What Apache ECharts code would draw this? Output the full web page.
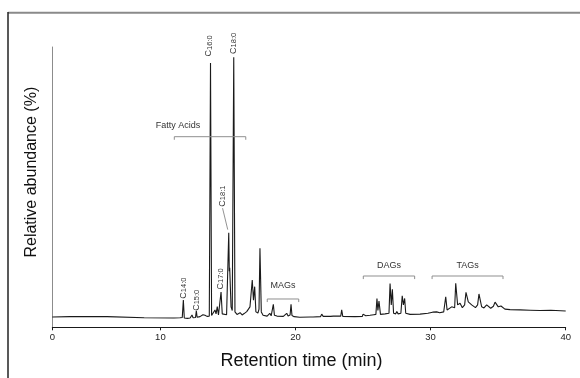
<!DOCTYPE html>
<html><head><meta charset="utf-8">
<script src="https://cdn.jsdelivr.net/npm/echarts@6/dist/echarts.min.js"></script>
<style>html,body{margin:0;padding:0;background:#fff}#c{width:580px;height:378px}</style>
</head><body><div id="c"></div>
<script>
// ---- data ----
const retentionTime = [2.00,3.30,3.35,6.05,6.10,8.80,11.00,11.45,11.62,11.70,11.77,12.00,12.20,12.34,12.42,12.60,12.66,12.72,12.93,13.15,
13.30,13.45,13.62,13.71,13.79,13.90,14.04,14.12,14.21,14.30,14.42,14.49,14.58,14.71,14.90,14.97,15.06,15.10,15.13,15.23,
15.32,15.43,15.52,15.67,15.90,16.05,16.20,16.39,16.50,16.63,16.73,16.80,16.89,16.98,17.07,17.22,17.30,17.37,17.47,17.60,
17.90,18.10,18.20,18.28,18.36,18.44,18.51,18.63,19.10,19.35,19.45,19.60,19.67,19.74,19.90,20.31,21.10,21.20,21.30,21.85,
21.94,22.05,22.60,22.68,22.80,23.35,23.42,23.50,24.40,24.95,25.00,25.06,25.12,25.20,25.52,25.80,25.95,26.03,26.10,26.18,
26.29,26.63,26.92,27.00,27.09,27.17,27.26,27.42,27.50,27.60,27.80,27.90,27.99,28.08,28.16,28.48,29.22,29.80,30.15,30.45,
30.52,30.67,30.97,31.05,31.12,31.22,31.36,31.56,31.69,31.78,31.86,32.00,32.18,32.35,32.52,32.62,32.79,33.04,33.16,33.32,
33.48,33.58,33.78,33.95,34.15,34.45,34.65,34.77,35.01,35.21,35.50,35.88,36.62,37.36,38.10,38.90,38.97,40.00];
const abundance = [3.7,3.8,3.9,3.8,3.6,3.4,3.3,3.4,3.5,9.7,3.3,3.2,3.3,4.4,3.4,3.5,5.9,3.6,3.8,4.5,
4.3,3.9,4.0,94.3,4.2,3.9,6.2,4.8,7.4,4.4,4.6,12.6,4.8,4.3,4.5,4.6,33.7,20.0,21.2,7.3,
6.0,96.3,5.5,4.6,5.2,4.4,4.9,5.6,5.0,7.3,8.0,16.9,9.7,14.5,5.5,5.1,6.5,28.2,5.5,4.3,
4.0,5.0,4.1,4.3,8.2,4.3,5.0,4.0,3.9,5.0,4.0,4.4,8.2,4.2,3.8,3.6,3.7,4.4,3.7,3.8,
4.7,3.9,3.9,4.4,4.0,4.0,6.2,3.9,3.8,3.9,4.7,4.0,4.6,4.1,4.3,4.5,4.6,10.3,6.0,9.4,
4.6,4.8,5.0,15.6,8.0,13.6,5.0,4.8,5.6,4.8,5.0,11.2,8.0,10.3,5.0,4.6,4.7,5.0,5.4,5.5,
6.2,5.2,5.5,6.0,10.9,6.2,6.5,7.3,6.6,7.0,15.7,8.0,8.6,7.0,8.0,12.5,9.1,8.0,8.6,7.0,
8.0,11.9,7.3,6.9,8.0,6.8,7.5,9.0,7.3,7.6,6.5,6.3,6.2,6.1,6.0,6.1,5.8,5.8];
const tickValues = [2, 10, 20, 30, 40];
const tickLabels = ["0", "10", "20", "30", "40"];
const peakNames = ["14:0", "15:0", "16:0", "17:0", "18:1", "18:0"];
const peakTimes = [11.70, 12.66, 13.71, 14.49, 15.06, 15.43];
const peakHeights = [9.7, 5.9, 94.3, 12.6, 33.7, 96.3];
const groupNames = ["Fatty Acids", "MAGs", "DAGs", "TAGs"];
const groupStart = [11.03, 17.91, 25.02, 30.11];
const groupEnd = [16.32, 20.24, 28.82, 35.36];

// ---- annotation layout (not data) ----
const FONT = "'Liberation Sans', Arial, Helvetica, sans-serif";
const bracketLevel = [68.0, 10.1, 18.3, 18.3];
const bracketTick = 1.1;
const peakLabelOffset = [[0, -12], [0.4, -10.5], [-1.5, -17], [-0.4, -13], [-6.4, -36.7], [0, -14]];
const groupLabelOffset = [[-32, -11.5], [0, -13], [0, -10], [0, -10]];

const chart = echarts.init(document.getElementById('c'), null, {renderer: 'canvas'});

const bracketSeries = groupNames.map((g, i) => ({
  type: 'line', name: g, silent: true, symbol: 'none', clip: false,
  data: [[groupStart[i], bracketLevel[i] - bracketTick], [groupStart[i], bracketLevel[i]],
         [groupEnd[i], bracketLevel[i]], [groupEnd[i], bracketLevel[i] - bracketTick]],
  lineStyle: {color: '#8f8f8f', width: 1}
}));

chart.setOption({
  animation: false,
  backgroundColor: '#fff',
  grid: {left: 52.3, right: 14.3, top: 47, bottom: 50.7, containLabel: false},
  xAxis: {
    type: 'value', min: 2, max: 40,
    axisLine: {onZero: false, lineStyle: {color: '#1a1a1a', width: 1}},
    axisTick: {show: true, length: 3, customValues: tickValues, lineStyle: {color: '#1a1a1a'}},
    axisLabel: {customValues: tickValues, formatter: v => tickLabels[tickValues.indexOf(v)],
      fontSize: 9.5, color: '#222', margin: 5, fontFamily: FONT},
    splitLine: {show: false},
    name: 'Retention time (min)', nameLocation: 'middle', nameGap: 25,
    nameTextStyle: {fontSize: 18, color: '#111', fontFamily: FONT, padding: [0, 15, 0, 0]}
  },
  yAxis: {
    type: 'value', min: 0, max: 100,
    axisLine: {show: true, onZero: false, lineStyle: {color: '#8c8c8c', width: 1}},
    axisTick: {show: false}, axisLabel: {show: false}, splitLine: {show: false},
    name: 'Relative abundance (%)', nameLocation: 'middle', nameGap: 13, nameRotate: 90,
    nameTextStyle: {fontSize: 16, color: '#111', fontFamily: FONT, padding: [0, 0, 0, 30]}
  },
  series: [{
    type: 'line', name: 'chromatogram', symbol: 'none', clip: false,
    data: retentionTime.map((t, i) => [t, abundance[i]]),
    lineStyle: {color: '#1a1a1a', width: 1.1}
  }].concat(bracketSeries)
});

const graphics = [
  {type: 'line', shape: {x1: 8, y1: 12.7, x2: 580, y2: 12.7}, style: {stroke: '#8a8a8a', lineWidth: 2}},
  {type: 'line', shape: {x1: 8, y1: 12, x2: 8, y2: 378}, style: {stroke: '#222', lineWidth: 1.5}}
];
peakNames.forEach((n, i) => {
  const p = chart.convertToPixel({gridIndex: 0}, [peakTimes[i], peakHeights[i]]);
  const o = peakLabelOffset[i];
  graphics.push({
    type: 'text', x: p[0] + o[0], y: p[1] + o[1], rotation: Math.PI / 2,
    style: {
      text: '{c|C}{s|' + n + '}', align: 'center', verticalAlign: 'middle',
      rich: {
        c: {fontSize: 9, lineHeight: 9, padding: [0, 0, 3, 0], verticalAlign: 'top', fill: '#333', fontFamily: FONT},
        s: {fontSize: 7.5, lineHeight: 8, verticalAlign: 'bottom', fill: '#333', fontFamily: FONT}
      }
    }
  });
  if (n === '18:1') {
    graphics.push({type: 'line', shape: {x1: p[0] - 6.2, y1: p[1] - 24.7, x2: p[0] - 1, y2: p[1] - 3.2},
      style: {stroke: '#777', lineWidth: 0.8}});
  }
});
groupNames.forEach((g, i) => {
  const p = chart.convertToPixel({gridIndex: 0}, [(groupStart[i] + groupEnd[i]) / 2, bracketLevel[i]]);
  const o = groupLabelOffset[i];
  graphics.push({type: 'text', x: p[0] + o[0], y: p[1] + o[1],
    style: {text: g, align: 'center', verticalAlign: 'middle', fontSize: 9, fill: '#333', fontFamily: FONT}});
});
chart.setOption({graphic: graphics});
</script>
</body></html>
